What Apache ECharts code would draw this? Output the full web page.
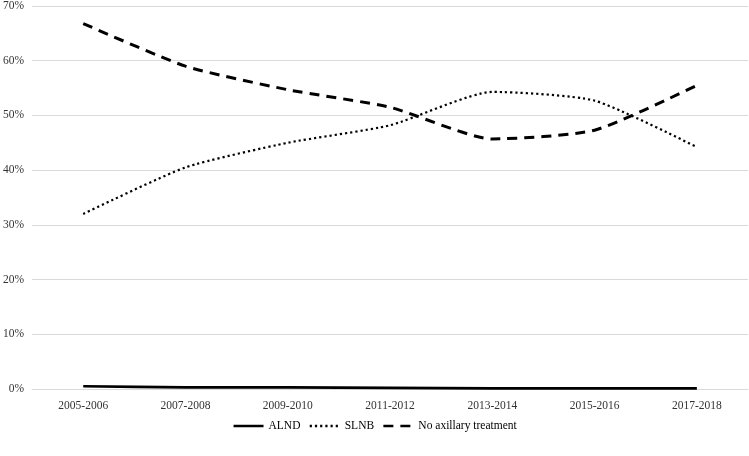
<!DOCTYPE html>
<html>
<head>
<meta charset="utf-8">
<script src="https://cdn.jsdelivr.net/npm/echarts@6/dist/echarts.min.js"></script>
<style>html,body{margin:0;padding:0;background:#fff}#c{width:749px;height:456px}</style>
</head>
<body>
<div id="c"></div>
<script>
const categories = ['2005-2006','2007-2008','2009-2010','2011-2012','2013-2014','2015-2016','2017-2018'];
const alnd = [0.5, 0.3, 0.3, 0.2, 0.1, 0.1, 0.1];
const slnb = [32.0, 40.5, 45.0, 48.2, 54.3, 52.7, 44.2];
const noAxillary = [66.8, 59.0, 54.7, 51.5, 45.7, 47.3, 55.5];

const font = 'Liberation Serif';
const chart = echarts.init(document.getElementById('c'));
chart.setOption({
  animation: false,
  textStyle: {fontFamily: font},
  grid: {left: 31, right: 1, top: 5, bottom: 67},
  legend: {
    bottom: 19, left: 'center', itemWidth: 30, itemHeight: 10, itemGap: 8,
    itemStyle: {opacity: 0},
    lineStyle: {width: 2.5},
    textStyle: {fontFamily: font, fontSize: 11.5, color: '#000'},
    data: ['ALND', 'SLNB', 'No axillary treatment']
  },
  xAxis: {
    type: 'category', data: categories, boundaryGap: true,
    axisLine: {lineStyle: {color: '#d9d9d9', width: 1}},
    axisTick: {show: false},
    axisLabel: {fontFamily: font, fontSize: 11.5, color: '#333', margin: 11}
  },
  yAxis: {
    type: 'value', min: 0, max: 70, interval: 10,
    axisLine: {show: false}, axisTick: {show: false},
    axisLabel: {formatter: '{value}%', fontFamily: font, fontSize: 11.5, color: '#333', margin: 8},
    splitLine: {lineStyle: {color: '#d9d9d9', width: 1}}
  },
  series: [
    {name: 'ALND', type: 'line', data: alnd, smooth: 0.2, symbol: 'none',
      lineStyle: {color: '#000', width: 2.7, type: 'solid'}, itemStyle: {color: '#000'}},
    {name: 'SLNB', type: 'line', data: slnb, smooth: 0.2, symbol: 'none',
      lineStyle: {color: '#000', width: 2.2, type: [2.2, 3]}, itemStyle: {color: '#000'}},
    {name: 'No axillary treatment', type: 'line', data: noAxillary, smooth: 0.2, symbol: 'none',
      lineStyle: {color: '#000', width: 3, type: [10, 7]}, itemStyle: {color: '#000'}}
  ]
});
</script>
</body>
</html>
